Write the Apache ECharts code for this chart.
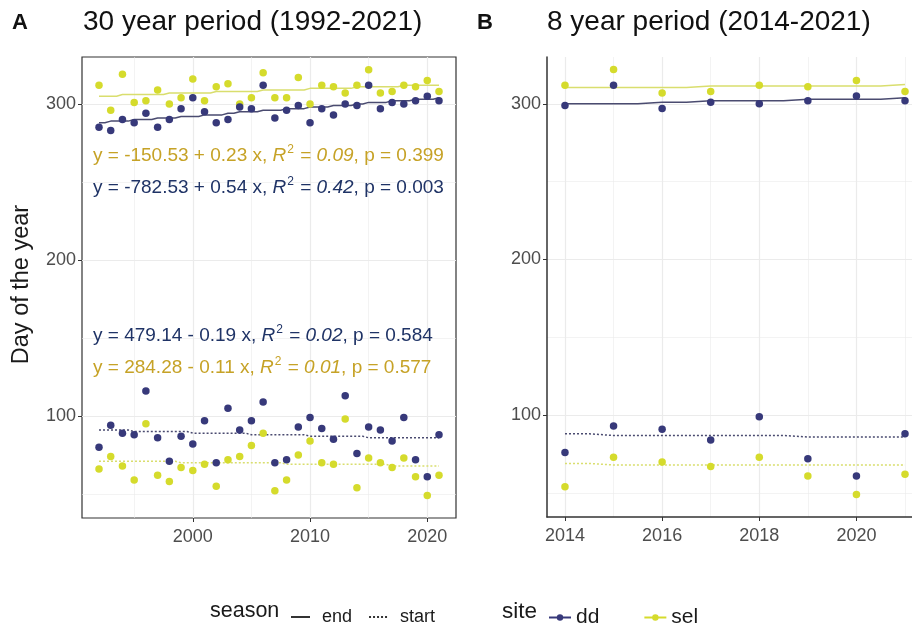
<!DOCTYPE html>
<html><head><meta charset="utf-8">
<script src="https://cdn.jsdelivr.net/npm/echarts@6/dist/echarts.min.js"></script>
<style>html,body{margin:0;padding:0;background:#fff}#c{width:912px;height:629px}</style>
</head><body><div id="c"></div>
<script>
const years30 = [1992,1993,1994,1995,1996,1997,1998,1999,2000,2001,2002,2003,2004,2005,2006,2007,2008,2009,2010,2011,2012,2013,2014,2015,2016,2017,2018,2019,2020,2021];
const ddEnd30 = [285,283,290,288,294,285,290,297,304,295,288,290,298,297,312,291,296,299,288,297,293,300,299,312,297,301,300,302,305,302];
const selEnd30 = [312,296,319,301,302,309,300,304,316,302,311,313,300,304,320,304,304,317,300,312,311,307,312,322,307,308,312,311,315,308];
const ddStart30 = [80,94,89,88,116,86,71,87,82,97,70,105,91,97,109,70,72,93,99,92,85,113,76,93,91,84,99,72,61,88];
const selStart30 = [66,74,68,59,95,62,58,67,65,69,55,72,74,81,89,52,59,75,84,70,69,98,54,73,70,67,73,61,49,62];
const ddEndTrend30 = [288,289,289,290,290,291,291,292,292,293,293,294,295,295,296,296,297,297,298,298,299,299,300,301,301,302,302,303,303,304];
const selEndTrend30 = [305,305,306,306,306,306,307,307,307,307,308,308,308,308,309,309,309,309,310,310,310,310,311,311,311,311,312,312,312,312];
const ddStartTrend30 = [91,91,91,90,90,90,90,90,89,89,89,89,89,88,88,88,88,88,87,87,87,87,87,86,86,86,86,86,86,86];
const selStartTrend30 = [71,71,71,71,71,71,71,70,70,70,70,70,70,70,70,70,69,69,69,69,69,69,69,69,69,68,68,68,68,68];

const years8 = [2014,2015,2016,2017,2018,2019,2020,2021];
const ddEnd8 = [299,312,297,301,300,302,305,302];
const selEnd8 = [312,322,307,308,312,311,315,308];
const ddStart8 = [76,93,91,84,99,72,61,88];
const selStart8 = [54,73,70,67,73,61,49,62];
const ddEndTrend8 = [300,300,301,302,302,303,303,304];
const selEndTrend8 = [310.5,310.5,310.5,311.5,311.5,311.5,311.5,312.5];
const ddStartTrend8 = [88,87,87,87,87,86,86,86];
const selStartTrend8 = [69,68,68,68,68,68,68,68];

const yTicks = [100,200,300];
const yGrid = [50,100,150,200,250,300];
const xTicksA = [2000,2010,2020];
const xGridA = [1995,2000,2005,2010,2015,2020];
const xTicksB = [2014,2016,2018,2020];
const xGridB = [2014,2015,2016,2017,2018,2019,2020,2021];

const eqTexts = [
  {a:'y = -150.53 + 0.23 x, ', r:'0.09', p:', p = 0.399', site:'sel', y:155},
  {a:'y = -782.53 + 0.54 x, ', r:'0.42', p:', p = 0.003', site:'dd', y:187},
  {a:'y = 479.14 - 0.19 x, ', r:'0.02', p:', p = 0.584', site:'dd', y:335},
  {a:'y = 284.28 - 0.11 x, ', r:'0.01', p:', p = 0.577', site:'sel', y:367}
];

const DD = '#37397a', SEL = '#d5db2c';
const DDLINE = '#4a4b70', SELLINE = '#d9de6e';
const DDTXT = '#1f3366', SELTXT = '#c6a226';
const FONT = '"Liberation Sans", Arial, sans-serif';

const pts = (xs, ys) => xs.map((x, i) => [x, ys[i]]);

function gridSeries(gi, xs, minorX) {
  const data = [];
  yGrid.forEach(v => data.push({yAxis: v, lineStyle: {width: (v % 100 === 0) ? 1.2 : 0.6}}));
  xs.forEach(v => data.push({xAxis: v, lineStyle: {width: minorX(v) ? 0.6 : 1.2}}));
  return {type:'line', xAxisIndex:gi, yAxisIndex:gi, data:[], z:0, zlevel:0, silent:true,
    markLine:{silent:true, symbol:'none', label:{show:false}, animation:false, z:0,
      lineStyle:{color:'#ebebeb', type:'solid'}, data: data}};
}
function trend(gi, xs, ys, color, dotted) {
  return {type:'line', xAxisIndex:gi, yAxisIndex:gi, data: pts(xs, ys), step:'middle',
    symbol:'none', silent:true, z:2,
    lineStyle:{color: color, width:1.5, type: dotted ? [2,2] : 'solid'}};
}
function scatter(gi, name, xs, a, b, color, z) {
  return {type:'scatter', name: name, xAxisIndex:gi, yAxisIndex:gi, clip:false,
    data: pts(xs, a).concat(pts(xs, b)), symbolSize:7.5, z: z,
    itemStyle:{color: color, opacity:1}};
}

const axLabel = {color:'#4d4d4d', fontSize:18, fontFamily:FONT, formatter: v => String(v)};
const plain = {fontWeight:'normal', fontFamily:FONT};
const option = {
  animation:false,
  textStyle:{fontFamily:FONT},
  grid:[
    {left:82, top:57, width:374, bottom:111, show:true, borderColor:'#333', borderWidth:1.2, backgroundColor:'transparent'},
    {left:547, top:57, right:0, bottom:112}
  ],
  xAxis:[
    {type:'value', gridIndex:0, min:1990.55, max:2022.45, splitLine:{show:false},
      axisLine:{show:false}, axisTick:{show:true, length:4, lineStyle:{color:'#333'}, customValues:xTicksA},
      axisLabel:Object.assign({customValues:xTicksA, margin:10}, axLabel)},
    {type:'value', gridIndex:1, min:2013.63, max:2021.144, splitLine:{show:false},
      axisLine:{show:true, onZero:false, lineStyle:{color:'#333', width:1.5}},
      axisTick:{show:true, length:4, lineStyle:{color:'#333'}, customValues:xTicksB},
      axisLabel:Object.assign({customValues:xTicksB, margin:10}, axLabel)}
  ],
  yAxis:[
    {type:'value', gridIndex:0, min:34.6, max:330.1, splitLine:{show:false},
      axisLine:{show:false}, axisTick:{show:true, length:4, lineStyle:{color:'#333'}, customValues:yTicks},
      axisLabel:Object.assign({customValues:yTicks, margin:6}, axLabel),
      name:'Day of the year', nameLocation:'middle', nameRotate:90, nameGap:48,
      nameTextStyle:{fontSize:23.5, color:'#1a1a1a', fontFamily:FONT, padding:[0,0,0,6]}},
    {type:'value', gridIndex:1, min:34.6, max:330.1, splitLine:{show:false},
      axisLine:{show:true, onZero:false, lineStyle:{color:'#333', width:1.5}},
      axisTick:{show:true, length:4, lineStyle:{color:'#333'}, customValues:yTicks},
      axisLabel:Object.assign({customValues:yTicks, margin:6}, axLabel)}
  ],
  title:[
    {text:'A', left:12, top:12, padding:0, textStyle:{fontSize:22, fontWeight:'bold', color:'#111', fontFamily:FONT}},
    {text:'30 year period (1992-2021)', left:83, top:8, padding:0, textStyle:Object.assign({fontSize:28, color:'#111'}, plain)},
    {text:'B', left:477, top:12, padding:0, textStyle:{fontSize:22, fontWeight:'bold', color:'#111', fontFamily:FONT}},
    {text:'8 year period (2014-2021)', left:547, top:8, padding:0, textStyle:Object.assign({fontSize:28, color:'#111'}, plain)},
    {text:'season', left:210, top:600, padding:0, textStyle:Object.assign({fontSize:21.5, color:'#1a1a1a'}, plain)},
    {text:'site', left:502, top:600, padding:0, textStyle:Object.assign({fontSize:22.5, color:'#1a1a1a'}, plain)}
  ].concat(eqTexts.map(e => {
    const c = e.site === 'dd' ? DDTXT : SELTXT;
    return {text:'{n|' + e.a + '}{i|R}{s|2}{n| = }{i|' + e.r + '}{n|' + e.p + '}',
      left:93, top:e.y - 11, padding:0,
      textStyle:{fontWeight:'normal', rich:{
        n:{fontSize:19, color:c, fontFamily:FONT, fontWeight:'normal', lineHeight:22},
        i:{fontSize:19, color:c, fontStyle:'italic', fontFamily:FONT, fontWeight:'normal', lineHeight:22},
        s:{fontSize:12, color:c, fontFamily:FONT, fontWeight:'normal', padding:[0,1,11,1]}
      }}};
  })),
  legend:[
    {data:['end','start'], left:285, top:603, orient:'horizontal', itemWidth:19, itemHeight:8, itemGap:16,
      textStyle:{fontSize:18, color:'#1a1a1a', padding:[0,0,0,7], fontFamily:FONT}, selectedMode:false},
    {data:['dd','sel'], left:543, top:602, orient:'horizontal', itemWidth:22, itemHeight:8, itemGap:44,
      textStyle:{fontSize:21, color:'#1a1a1a', padding:[0,0,0,0], fontFamily:FONT}, selectedMode:false}
  ],
  series:[
    gridSeries(0, xGridA, v => v % 10 !== 0),
    gridSeries(1, xGridB, v => v % 2 !== 0),
    trend(0, years30, selEndTrend30, SELLINE, false),
    trend(0, years30, ddEndTrend30, DDLINE, false),
    trend(0, years30, selStartTrend30, SELLINE, true),
    trend(0, years30, ddStartTrend30, DDLINE, true),
    trend(1, years8, selEndTrend8, SELLINE, false),
    trend(1, years8, ddEndTrend8, DDLINE, false),
    trend(1, years8, selStartTrend8, SELLINE, true),
    trend(1, years8, ddStartTrend8, DDLINE, true),
    scatter(0, 'sel A', years30, selEnd30, selStart30, SEL, 3),
    scatter(0, 'dd A', years30, ddEnd30, ddStart30, DD, 4),
    scatter(1, 'sel B', years8, selEnd8, selStart8, SEL, 3),
    scatter(1, 'dd B', years8, ddEnd8, ddStart8, DD, 4),
    {type:'line', name:'end', data:[], symbol:'none', lineStyle:{color:'#333', width:1.5}, itemStyle:{color:'#333', opacity:0}},
    {type:'line', name:'start', data:[], symbol:'none', lineStyle:{color:'#333', width:1.5, type:[2,2]}, itemStyle:{color:'#333', opacity:0}},
    {type:'line', name:'dd', data:[], symbol:'circle', symbolSize:6, lineStyle:{color:DD, width:1.5}, itemStyle:{color:DD}},
    {type:'line', name:'sel', data:[], symbol:'circle', symbolSize:6, lineStyle:{color:SEL, width:1.5}, itemStyle:{color:SEL}}
  ]
};
const chart = echarts.init(document.getElementById('c'), null, {renderer:'canvas'});
chart.setOption(option);
</script></body></html>
